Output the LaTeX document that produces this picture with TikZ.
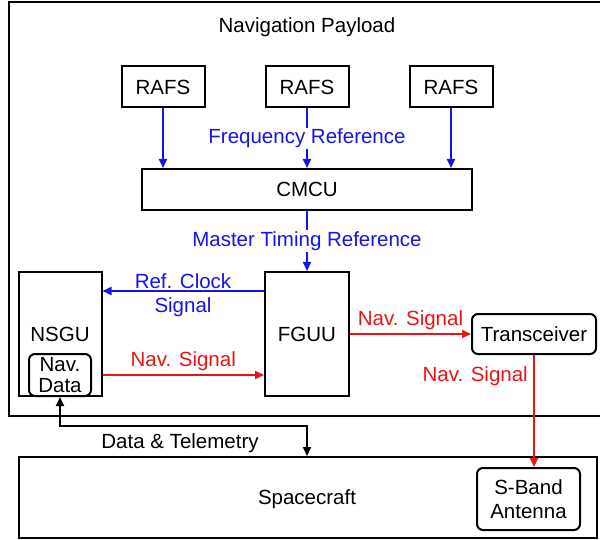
\documentclass[tikz,border=0pt]{standalone}
\usepackage{fontspec}
\setmainfont{Liberation Sans}
\usetikzlibrary{arrows.meta,calc}
\definecolor{navblue}{RGB}{20,20,235}
\definecolor{navred}{RGB}{235,20,20}
\begin{document}
\begin{tikzpicture}[x=1pt,y=-1pt,
  font=\fontsize{20.5}{24.5}\selectfont,
  box/.style={draw=black,line width=2pt,fill=white,align=center,inner sep=0pt},
  rbox/.style={box,rounded corners=6pt},
  conn/.style={line width=2pt,-{Triangle[length=9pt,width=8pt]}},
  lbl/.style={align=center,inner sep=1pt}]
\useasboundingbox (0,0) rectangle (600,540);
% payload frame
\draw[line width=2pt] (9,2) rectangle (620,416);
\node[lbl] (title) at (307,27) {Navigation Payload};
% nodes
\node[box,minimum width=83pt,minimum height=41pt] (rafs1) at (163,87) {RAFS};
\node[box,minimum width=83pt,minimum height=41pt] (rafs2) at (307,87) {RAFS};
\node[box,minimum width=83pt,minimum height=41pt] (rafs3) at (451,87) {RAFS};
\node[box,minimum width=330pt,minimum height=41pt] (cmcu) at (307,189.5) {CMCU};
\node[box,minimum width=84pt,minimum height=124pt] (fguu) at (307,334) {FGUU};
\node[box,minimum width=83pt,minimum height=124pt] (nsgu) at (60,334) {};
\node[lbl] (nsgut) at (60,334) {NSGU};
\node[rbox,minimum width=62pt,minimum height=42pt] (navd) at (60,375) {Nav.\\[-3pt]Data};
\node[rbox,minimum width=124pt,minimum height=40pt] (trx) at (534,334) {Transceiver};
\node[box,minimum width=578pt,minimum height=81pt] (sc) at (308,497.5) {};
\node[lbl] (sct) at (307,499) {Spacecraft};
\node[rbox,minimum width=103pt,minimum height=62pt] (ant) at (528.5,499) {S-Band\\Antenna};
% blue connectors
\draw[conn,navblue] (rafs1.south) -- (rafs1.south |- cmcu.north);
\draw[conn,navblue] (rafs2.south) -- node[lbl,fill=white,text=navblue] (freq) {Frequency Reference} (cmcu.north);
\draw[conn,navblue] (rafs3.south) -- (rafs3.south |- cmcu.north);
\draw[conn,navblue] (cmcu.south) -- node[lbl,fill=white,text=navblue] (mtr) {Master Timing Reference} (fguu.north);
\draw[conn,navblue] ([yshift=-20pt]fguu.north west) -- ([yshift=-20pt]nsgu.north east);
\node[lbl,text=navblue] (rcs) at (183,295) {Ref. Clock\\Signal};
% red connectors
\draw[conn,navred] (navd.east -| nsgu.east) -- (navd.east -| fguu.west)
  node[midway,lbl,above=2pt,text=navred] (ns1) {Nav. Signal};
\draw[conn,navred] (trx.west -| fguu.east) -- (trx.west)
  node[midway,lbl,above=2pt,text=navred] (ns2) {Nav. Signal};
\draw[conn,navred] (trx.south) -- (trx.south |- ant.north);
\node[lbl,text=navred,anchor=east] (ns3) at (529,376) {Nav. Signal};
% data & telemetry
\coordinate (dt) at (180,426);
\draw[line width=2pt,{Triangle[length=9pt,width=8pt]}-{Triangle[length=9pt,width=8pt]}]
  (navd.south) |- (dt) -| (sc.north -| cmcu.south);
\node[lbl] (dtl) at (180,443) {Data \& Telemetry};
\end{tikzpicture}
\end{document}
